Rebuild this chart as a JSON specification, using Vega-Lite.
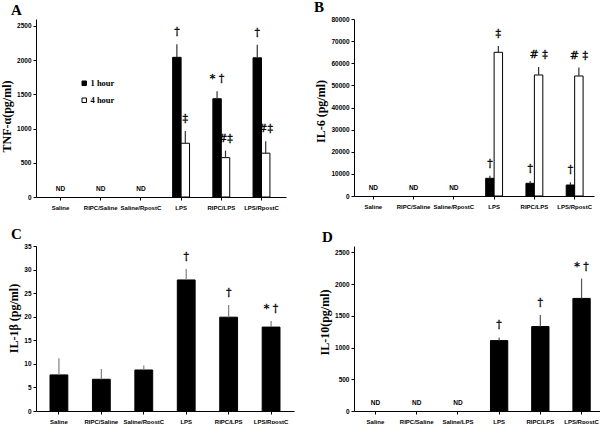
{
  "$schema": "https://vega.github.io/schema/vega-lite/v6.json",
  "background": "white",
  "padding": {"left": 0, "top": 0, "right": 0, "bottom": 0},
  "config": {
    "view": {"stroke": null},
    "axis": {"domainColor": "black", "tickColor": "black", "labelColor": "black", "labelFont": "Liberation Sans", "labelFontWeight": "bold", "labelFontSize": 6.5, "titleFont": "Liberation Serif", "titleFontSize": 12, "titleFontWeight": "bold", "titleColor": "black", "grid": false, "labelOverlap": false},
    "axisX": {"labelAngle": 0, "tickSize": 3, "labelPadding": 4, "title": null, "domainWidth": 1, "labelFontSize": 6},
    "axisY": {"tickSize": 3, "labelPadding": 2},
    "legend": {"orient": "none", "title": null, "symbolType": "square", "symbolStrokeColor": "black", "symbolStrokeWidth": 1, "labelFont": "Liberation Serif", "labelFontWeight": "bold", "labelFontSize": 8.5, "labelColor": "black", "labelOffset": 2},
    "title": {"anchor": "start", "frame": "group", "font": "Liberation Serif", "fontSize": 15, "fontWeight": "bold", "color": "black", "offset": 1},
    "text": {"font": "DejaVu Serif", "fontSize": 11, "fill": "#000000", "stroke": "#000000", "strokeWidth": 0.3}
  },
  "datasets": {
    "a": [
      {"group": "LPS", "time": "1 hour", "value": 2040, "upper": 2230, "note": "†"},
      {"group": "LPS", "time": "4 hour", "value": 785, "upper": 965, "note": "‡"},
      {"group": "RIPC/LPS", "time": "1 hour", "value": 1435, "upper": 1543, "note": "*  †"},
      {"group": "RIPC/LPS", "time": "4 hour", "value": 575, "upper": 677, "note": "#‡"},
      {"group": "LPS/RpostC", "time": "1 hour", "value": 2033, "upper": 2225, "note": "†"},
      {"group": "LPS/RpostC", "time": "4 hour", "value": 640, "upper": 815, "note": "#‡"}
    ],
    "b": [
      {"group": "LPS", "time": "1 hour", "value": 8000, "upper": 9200, "note": "†"},
      {"group": "LPS", "time": "4 hour", "value": 64950, "upper": 67800, "note": "‡"},
      {"group": "RIPC/LPS", "time": "1 hour", "value": 5740, "upper": 6780, "note": "†"},
      {"group": "RIPC/LPS", "time": "4 hour", "value": 54700, "upper": 58300, "note": "#  ‡"},
      {"group": "LPS/RpostC", "time": "1 hour", "value": 4970, "upper": 6190, "note": "†"},
      {"group": "LPS/RpostC", "time": "4 hour", "value": 54240, "upper": 58030, "note": "#  ‡"}
    ],
    "c": [
      {"group": "Saline", "value": 7.65, "upper": 11.2, "note": ""},
      {"group": "RIPC/Saline", "value": 6.73, "upper": 8.92, "note": ""},
      {"group": "Saline/RpostC", "value": 8.7, "upper": 9.63, "note": ""},
      {"group": "LPS", "value": 27.8, "upper": 30.1, "note": "†"},
      {"group": "RIPC/LPS", "value": 19.9, "upper": 22.5, "note": "†"},
      {"group": "LPS/RpostC", "value": 17.8, "upper": 19.1, "note": "*  †"}
    ],
    "d": [
      {"group": "LPS", "value": 1109, "upper": 1160, "note": "†"},
      {"group": "RIPC/LPS", "value": 1331, "upper": 1512, "note": "†"},
      {"group": "LPS/RpostC", "value": 1774, "upper": 2087, "note": "*  †"}
    ],
    "ndabc": [
      {"group": "Saline", "label": "ND"},
      {"group": "RIPC/Saline", "label": "ND"},
      {"group": "Saline/RpostC", "label": "ND"}
    ],
    "ndd": [
      {"group": "Saline", "label": "ND"},
      {"group": "RIPC/Saline", "label": "ND"},
      {"group": "Saline/LPS", "label": "ND"}
    ]
  },
  "concat": [
    {
      "title": {"text": "A", "dx": -25},
      "width": 250,
      "height": 178,
      "encoding": {
        "x": {"field": "group", "type": "nominal", "scale": {"domain": ["Saline", "RIPC/Saline", "Saline/RpostC", "LPS", "RIPC/LPS", "LPS/RpostC"], "paddingInner": 0.58, "paddingOuter": 0.4}, "axis": {"labelOverlap": false}}
      },
      "layer": [
        {
          "data": {"name": "a"},
          "mark": {"type": "bar", "stroke": "black", "strokeWidth": 1},
          "encoding": {
            "xOffset": {"field": "time", "type": "nominal", "scale": {"domain": ["1 hour", "4 hour"]}},
            "y": {"field": "value", "type": "quantitative", "scale": {"domain": [0, 2500]}, "axis": {"title": "TNF-α(pg/ml)", "values": [0, 500, 1000, 1500, 2000, 2500], "format": "d", "labelOverlap": false, "titlePadding": 3, "titleY": 97}},
            "fill": {"field": "time", "type": "nominal", "scale": {"domain": ["1 hour", "4 hour"], "range": ["black", "white"]}, "legend": {"legendX": 44, "legendY": 60, "rowPadding": 8, "symbolSize": 20}}
          }
        },
        {
          "data": {"name": "a"},
          "mark": {"type": "rule", "color": "#333", "strokeWidth": 1.2},
          "encoding": {
            "xOffset": {"field": "time", "type": "nominal", "scale": {"domain": ["1 hour", "4 hour"]}},
            "y": {"field": "value", "type": "quantitative", "axis": {"title": "TNF-α(pg/ml)", "values": [0, 500, 1000, 1500, 2000, 2500], "format": "d", "labelOverlap": false, "titlePadding": 3, "titleY": 97}},
            "y2": {"field": "upper"}
          }
        },
        {
          "data": {"name": "a"},
          "mark": {"type": "text", "dy": -9, "baseline": "alphabetic"},
          "encoding": {
            "xOffset": {"field": "time", "type": "nominal", "scale": {"domain": ["1 hour", "4 hour"]}},
            "y": {"field": "upper", "type": "quantitative", "axis": {"title": "TNF-α(pg/ml)", "values": [0, 500, 1000, 1500, 2000, 2500], "format": "d", "labelOverlap": false, "titlePadding": 3, "titleY": 97}},
            "text": {"field": "note"}
          }
        },
        {
          "data": {"name": "ndabc"},
          "mark": {"type": "text", "font": "Liberation Sans", "fontWeight": "bold", "fontSize": 6.5, "dy": -6, "baseline": "alphabetic", "strokeWidth": 0},
          "encoding": {
            "y": {"datum": 0, "type": "quantitative", "axis": {"title": "TNF-α(pg/ml)", "values": [0, 500, 1000, 1500, 2000, 2500], "format": "d", "labelOverlap": false, "titlePadding": 3, "titleY": 97}},
            "text": {"field": "label"}
          }
        }
      ]
    },
    {
      "title": {"text": "B", "dx": -40},
      "width": 240,
      "height": 177,
      "encoding": {
        "x": {"field": "group", "type": "nominal", "scale": {"domain": ["Saline", "RIPC/Saline", "Saline/RpostC", "LPS", "RIPC/LPS", "LPS/RpostC"], "paddingInner": 0.58, "paddingOuter": 0.27}, "axis": {"labelOverlap": false}}
      },
      "layer": [
        {
          "data": {"name": "b"},
          "mark": {"type": "bar", "stroke": "black", "strokeWidth": 1},
          "encoding": {
            "xOffset": {"field": "time", "type": "nominal", "scale": {"domain": ["1 hour", "4 hour"]}},
            "y": {"field": "value", "type": "quantitative", "scale": {"domain": [0, 80000]}, "axis": {"title": "IL-6 (pg/ml)", "values": [0, 10000, 20000, 30000, 40000, 50000, 60000, 70000, 80000], "format": "d", "labelOverlap": false, "titlePadding": 3, "titleY": 92}},
            "fill": {"field": "time", "type": "nominal", "scale": {"domain": ["1 hour", "4 hour"], "range": ["black", "white"]}, "legend": {"legendX": 36, "legendY": 64, "rowPadding": 4, "symbolSize": 25}}
          }
        },
        {
          "data": {"name": "b"},
          "mark": {"type": "rule", "color": "#333", "strokeWidth": 1.2},
          "encoding": {
            "xOffset": {"field": "time", "type": "nominal", "scale": {"domain": ["1 hour", "4 hour"]}},
            "y": {"field": "value", "type": "quantitative", "axis": {"title": "IL-6 (pg/ml)", "values": [0, 10000, 20000, 30000, 40000, 50000, 60000, 70000, 80000], "format": "d", "labelOverlap": false, "titlePadding": 3, "titleY": 92}},
            "y2": {"field": "upper"}
          }
        },
        {
          "data": {"name": "b"},
          "mark": {"type": "text", "dy": -9, "baseline": "alphabetic"},
          "encoding": {
            "xOffset": {"field": "time", "type": "nominal", "scale": {"domain": ["1 hour", "4 hour"]}},
            "y": {"field": "upper", "type": "quantitative", "axis": {"title": "IL-6 (pg/ml)", "values": [0, 10000, 20000, 30000, 40000, 50000, 60000, 70000, 80000], "format": "d", "labelOverlap": false, "titlePadding": 3, "titleY": 92}},
            "text": {"field": "note"}
          }
        },
        {
          "data": {"name": "ndabc"},
          "mark": {"type": "text", "font": "Liberation Sans", "fontWeight": "bold", "fontSize": 6.5, "dy": -6, "baseline": "alphabetic", "strokeWidth": 0},
          "encoding": {
            "y": {"datum": 0, "type": "quantitative", "axis": {"title": "IL-6 (pg/ml)", "values": [0, 10000, 20000, 30000, 40000, 50000, 60000, 70000, 80000], "format": "d", "labelOverlap": false, "titlePadding": 3, "titleY": 92}},
            "text": {"field": "label"}
          }
        }
      ]
    },
    {
      "title": {"text": "C", "dx": -25},
      "width": 258,
      "height": 165,
      "encoding": {
        "x": {"field": "group", "type": "nominal", "scale": {"domain": ["Saline", "RIPC/Saline", "Saline/RpostC", "LPS", "RIPC/LPS", "LPS/RpostC"], "paddingInner": 0.58, "paddingOuter": 0.33}, "axis": {"labelOverlap": false}}
      },
      "layer": [
        {
          "data": {"name": "c"},
          "mark": {"type": "bar", "fill": "black", "stroke": "black", "strokeWidth": 1},
          "encoding": {
            "y": {"field": "value", "type": "quantitative", "scale": {"domain": [0, 35]}, "axis": {"title": "IL-1β (pg/ml)", "values": [0, 5, 10, 15, 20, 25, 30, 35], "labelOverlap": false, "titlePadding": 3, "titleY": 72}}
          }
        },
        {
          "data": {"name": "c"},
          "mark": {"type": "rule", "color": "#808080", "strokeWidth": 1.2},
          "encoding": {
            "y": {"field": "value", "type": "quantitative", "axis": {"title": "IL-1β (pg/ml)", "values": [0, 5, 10, 15, 20, 25, 30, 35], "labelOverlap": false, "titlePadding": 3, "titleY": 72}},
            "y2": {"field": "upper"}
          }
        },
        {
          "data": {"name": "c"},
          "mark": {"type": "text", "dy": -9, "baseline": "alphabetic"},
          "encoding": {
            "y": {"field": "upper", "type": "quantitative", "axis": {"title": "IL-1β (pg/ml)", "values": [0, 5, 10, 15, 20, 25, 30, 35], "labelOverlap": false, "titlePadding": 3, "titleY": 72}},
            "text": {"field": "note"}
          }
        }
      ]
    },
    {
      "title": {"text": "D", "dx": -32},
      "width": 249,
      "height": 165,
      "encoding": {
        "x": {"field": "group", "type": "nominal", "scale": {"domain": ["Saline", "RIPC/Saline", "Saline/LPS", "LPS", "RIPC/LPS", "LPS/RpostC"], "paddingInner": 0.58, "paddingOuter": 0.31}, "axis": {"labelOverlap": false}}
      },
      "layer": [
        {
          "data": {"name": "d"},
          "mark": {"type": "bar", "fill": "black", "stroke": "black", "strokeWidth": 1},
          "encoding": {
            "y": {"field": "value", "type": "quantitative", "scale": {"domain": [0, 2500]}, "axis": {"title": "IL-10(pg/ml)", "values": [0, 500, 1000, 1500, 2000, 2500], "format": "d", "labelOverlap": false, "titlePadding": 3, "titleY": 76}}
          }
        },
        {
          "data": {"name": "d"},
          "mark": {"type": "rule", "color": "#555", "strokeWidth": 1.2},
          "encoding": {
            "y": {"field": "value", "type": "quantitative", "axis": {"title": "IL-10(pg/ml)", "values": [0, 500, 1000, 1500, 2000, 2500], "format": "d", "labelOverlap": false, "titlePadding": 3, "titleY": 76}},
            "y2": {"field": "upper"}
          }
        },
        {
          "data": {"name": "d"},
          "mark": {"type": "text", "dy": -9, "baseline": "alphabetic"},
          "encoding": {
            "y": {"field": "upper", "type": "quantitative", "axis": {"title": "IL-10(pg/ml)", "values": [0, 500, 1000, 1500, 2000, 2500], "format": "d", "labelOverlap": false, "titlePadding": 3, "titleY": 76}},
            "text": {"field": "note"}
          }
        },
        {
          "data": {"name": "ndd"},
          "mark": {"type": "text", "font": "Liberation Sans", "fontWeight": "bold", "fontSize": 6.5, "dy": -6, "baseline": "alphabetic", "strokeWidth": 0},
          "encoding": {
            "y": {"datum": 0, "type": "quantitative", "axis": {"title": "IL-10(pg/ml)", "values": [0, 500, 1000, 1500, 2000, 2500], "format": "d", "labelOverlap": false, "titlePadding": 3, "titleY": 76}},
            "text": {"field": "label"}
          }
        }
      ]
    }
  ],
  "columns": 2,
  "align": "each",
  "bounds": "flush",
  "spacing": {"row": 49, "column": 60}
}
